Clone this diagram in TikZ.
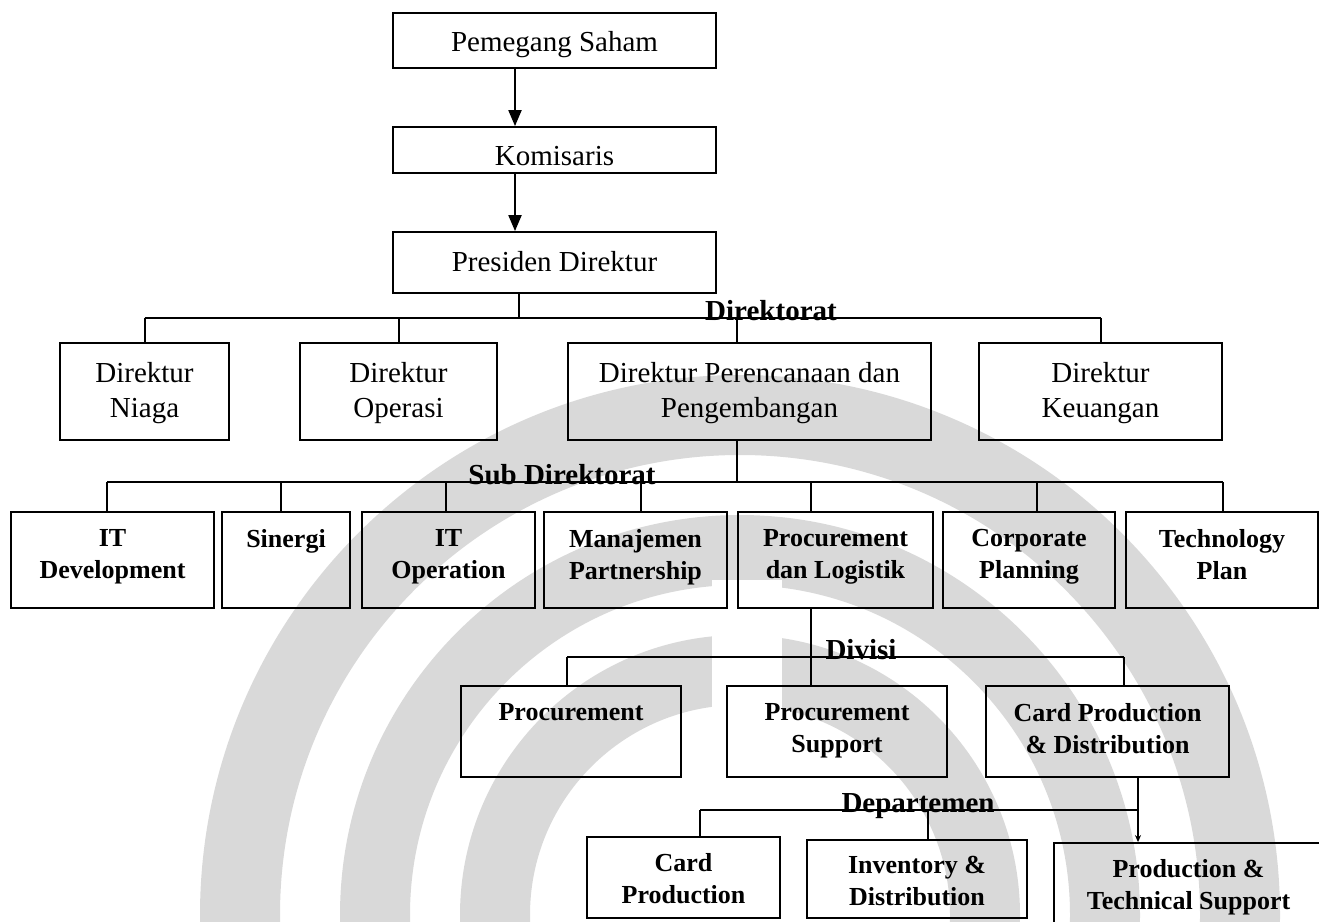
\documentclass[tikz,border=0pt]{standalone}
\usepackage{fontspec}
\setmainfont{Liberation Serif}
\usetikzlibrary{arrows.meta}

\definecolor{emblem}{gray}{0.85}

\tikzset{
  orgbox/.style={draw, line width=1.8pt, inner sep=0pt},
  regtext/.style={inner sep=0pt, align=center, font=\fontsize{29}{35}\selectfont},
  boldtext/.style={inner sep=0pt, align=center, font=\bfseries\fontsize{26}{32}\selectfont},
  tierlabel/.style={inner sep=0pt, anchor=base, font=\bfseries\fontsize{29}{35}\selectfont},
  link/.style={line width=2pt},
  busline/.style={line width=2.4pt},
  downarrow/.style={line width=2pt, -{Triangle[length=16pt,width=13pt]}},
  ring/.style={draw=emblem},
}

% #1 name, #2 left, #3 top, #4 right, #5 bottom, #6 text style, #7 top padding, #8 text
\newcommand\orgunit[8]{%
  \node[orgbox, minimum width={#4pt-#2pt}, minimum height={#5pt-#3pt}]
    (#1) at ({(#2+#4)/2},{(#3+#5)/2}) {};
  \node[#6, anchor=north] (#1-t) at ([yshift=-#7pt]#1.north) {#8};
}

\begin{document}
\begin{tikzpicture}[x=1pt, y=-1pt]
\useasboundingbox (0,0) rectangle (1319,921);
\clip (0,0) rectangle (1319,921);

% faint emblem behind the lower chart
\begin{scope}
  \foreach \r/\w in {500/80, 365/70, 245/70}{
    \draw[ring, line width=\w pt] (740,915) circle[radius=\r];
  }
  \fill[white] (712,580) rectangle (782,921);
\end{scope}

% top of the chain
\orgunit{saham}{393}{13}{716}{68}{regtext}{19}{Pemegang Saham}
\orgunit{komis}{393}{127}{716}{173}{regtext}{20}{Komisaris}
\orgunit{presdir}{393}{232}{716}{293}{regtext}{20}{Presiden Direktur}

\coordinate (spine) at (515,0);
\draw[downarrow] (saham.south -| spine) -- (komis.north -| spine);
\draw[downarrow] (komis.south -| spine) -- (presdir.north -| spine);

% directorates
\orgunit{niaga}{60}{343}{229}{440}{regtext}{20}{Direktur\\Niaga}
\orgunit{operasi}{300}{343}{497}{440}{regtext}{20}{Direktur\\Operasi}
\orgunit{renbang}{568}{343}{931}{440}{regtext}{20}{Direktur Perencanaan dan\\Pengembangan}
\orgunit{keuangan}{979}{343}{1222}{440}{regtext}{20}{Direktur\\Keuangan}

\coordinate (dirbus) at (519,318);
\coordinate (d-renbang) at (737,318);
\draw[link] (presdir.south -| dirbus) -- (dirbus);
\draw[busline] (niaga.north |- dirbus) -- (keuangan.north |- dirbus);
\draw[link] (niaga.north) -- (niaga.north |- dirbus);
\draw[link] (operasi.north) -- (operasi.north |- dirbus);
\draw[link] (d-renbang) -- (d-renbang |- renbang.north);
\draw[link] (keuangan.north) -- (keuangan.north |- dirbus);
\node[tierlabel] (lbl-dir) at (771,320) {Direktorat};

% sub-directorates
\orgunit{itdev}{11}{512}{214}{608}{boldtext}{18}{IT\\Development}
\orgunit{sinergi}{222}{512}{350}{608}{boldtext}{18}{Sinergi}
\orgunit{itop}{362}{512}{535}{608}{boldtext}{18}{IT\\Operation}
\orgunit{manaj}{544}{512}{727}{608}{boldtext}{18}{Manajemen\\Partnership}
\orgunit{procl}{738}{512}{933}{608}{boldtext}{18}{Procurement\\dan Logistik}
\orgunit{corp}{943}{512}{1115}{608}{boldtext}{18}{Corporate\\Planning}
\orgunit{tech}{1126}{512}{1318}{608}{boldtext}{18}{Technology\\Plan}

\coordinate (subbus) at (737,482);
\draw[link] (renbang.south -| subbus) -- (subbus);
\foreach \u/\x in {itdev/107, sinergi/281, itop/446, manaj/641, procl/811, corp/1037, tech/1223}{
  \coordinate (s-\u) at (\x,482);
  \draw[link] (s-\u) -- (s-\u |- \u.north);
}
\draw[busline] (s-itdev) -- (s-tech);
\node[tierlabel] (lbl-sub) at (562,484) {Sub Direktorat};

% divisions
\orgunit{proc}{461}{686}{681}{777}{boldtext}{18}{Procurement}
\orgunit{procsup}{727}{686}{947}{777}{boldtext}{18}{Procurement\\Support}
\orgunit{cpd}{986}{686}{1229}{777}{boldtext}{18}{Card Production\\\& Distribution}

\coordinate (divbus) at (811,657);
\coordinate (v-proc) at (567,657);
\coordinate (v-cpd) at (1124,657);
\draw[link] (procl.south -| divbus) -- (procsup.north -| divbus);
\draw[busline] (v-proc) -- (v-cpd);
\draw[link] (v-proc) -- (v-proc |- proc.north);
\draw[link] (v-cpd) -- (v-cpd |- cpd.north);
\node[tierlabel] (lbl-div) at (861,659) {Divisi};

% departments
\orgunit{cardprod}{587}{837}{780}{918}{boldtext}{17}{Card\\Production}
\orgunit{invdist}{807}{840}{1027}{918}{boldtext}{17}{Inventory \&\\Distribution}
\orgunit{pts}{1054}{843}{1323}{940}{boldtext}{17}{Production \&\\Technical Support}

\coordinate (depbus) at (1138,810);
\coordinate (p-card) at (700,810);
\coordinate (p-inv) at (928,810);
\draw[link, -{Stealth[length=7pt,width=6pt]}] (cpd.south -| depbus) -- (pts.north -| depbus);
\draw[busline] (p-card) -- (depbus);
\draw[link] (p-card) -- (p-card |- cardprod.north);
\draw[link] (p-inv) -- (p-inv |- invdist.north);
\node[tierlabel] (lbl-dep) at (918,812) {Departemen};

\end{tikzpicture}
\end{document}
